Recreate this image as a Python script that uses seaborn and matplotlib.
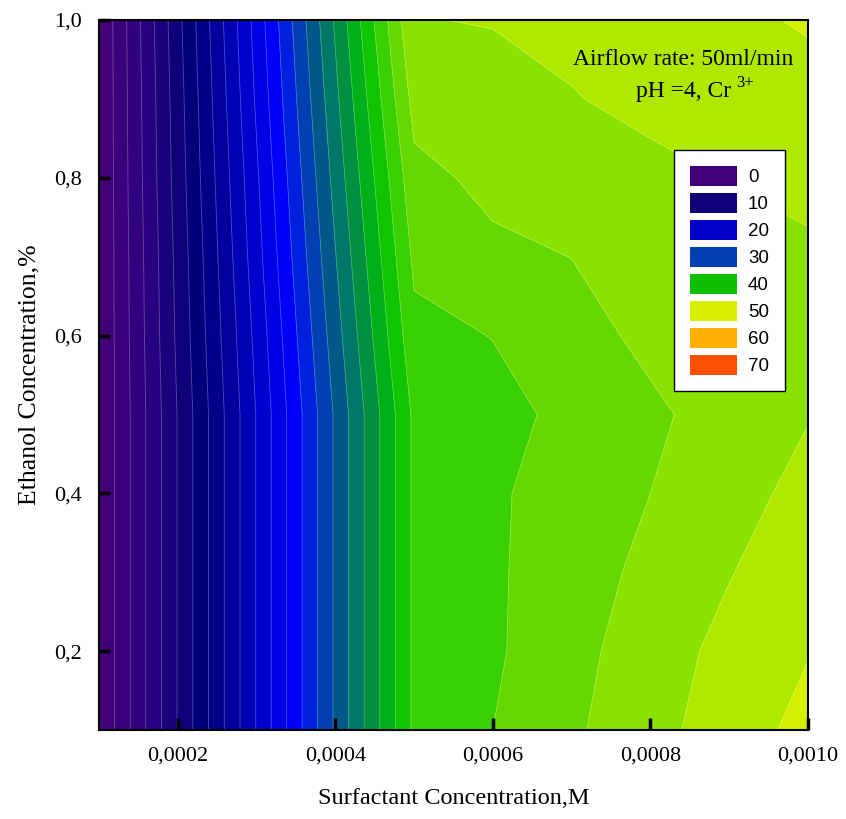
import numpy as np
import seaborn as sns
import matplotlib.pyplot as plt
from matplotlib.patches import Patch
from matplotlib.ticker import FuncFormatter

### grid of the measurements
surfactant = [0.0001, 0.0002, 0.0003, 0.0004, 0.0005, 0.0006, 0.0007, 0.0008, 0.0009, 0.0010]
ethanol = [0.1, 0.2, 0.3, 0.4, 0.5, 0.6, 0.7, 0.8, 0.9, 1.0]

### removal values, one row per ethanol concentration
removal = [
    [0.0, 10.1, 20.1, 30.3, 40.4, 42.0, 43.66, 45.43, 46.86, 48.7],
    [0.0, 10.1, 20.1, 30.3, 40.4, 41.7, 43.4, 45.0, 46.6, 47.9],
    [0.0, 10.1, 20.1, 30.3, 40.4, 41.72, 43.1, 44.5, 45.9, 47.3],
    [0.0, 10.1, 20.1, 30.3, 40.4, 41.72, 42.87, 44.0, 45.25, 46.6],
    [0.0, 10.1, 20.1, 30.3, 40.4, 41.36, 42.5, 43.65, 44.8, 45.9],
    [0.0, 10.4, 20.6, 31.1, 41.45, 42.05, 43.27, 44.45, 45.1, 45.6],
    [0.0, 10.6, 21.2, 31.9, 42.42, 43.6, 44.02, 44.8, 45.3, 45.75],
    [0.0, 10.9, 21.7, 32.7, 43.44, 44.5, 45.0, 45.5, 46.06, 46.4],
    [0.0, 11.1, 22.3, 33.5, 44.7, 45.3, 45.9, 46.5, 47.0, 47.3],
    [0.0, 11.4, 22.8, 34.3, 45.93, 46.09, 46.5, 47.0, 47.6, 48.2],
]

levels = list(range(0, 52, 2))
band_colors = ['#420078', '#3a007c', '#30007e', '#26007e', '#1a007c',
               '#0e0078', '#02007a', '#000088', '#00009c', '#0000b4',
               '#0000cc', '#0000e4', '#0000fa', '#0020e0', '#0040b0',
               '#005888', '#007868', '#009040', '#00b018', '#10c400',
               '#38d000', '#64d800', '#8ae200', '#b0e800', '#d2f000']

legend_values = ['0', '10', '20', '30', '40', '50', '60', '70']
legend_colors = ['#420078', '#10007a', '#0000c8', '#0040b0',
                 '#10c000', '#d8f000', '#ffb000', '#ff5000']

sns.set_theme(style="ticks")
plt.rcParams['font.family'] = ['Liberation Serif', 'DejaVu Serif']
plt.rcParams['text.color'] = 'black'
plt.rcParams['axes.labelcolor'] = 'black'
plt.rcParams['xtick.labelcolor'] = 'black'
plt.rcParams['ytick.labelcolor'] = 'black'

fig = plt.figure(figsize=(8.46, 8.19), dpi=100)
ax = fig.add_axes([99/846, 1 - 730/819, 709/846, 710/819])
ax.set_axisbelow(False)

X, Y = np.meshgrid(surfactant, ethanol)
Z = np.array(removal)
ax.contourf(X, Y, Z, levels=levels, colors=sns.color_palette(band_colors))
ax.contour(X, Y, Z, levels=levels[1:-1], colors='white', linewidths=0.6, alpha=0.3)

ax.set_xlim(0.0001, 0.0010)
ax.set_ylim(0.1, 1.0)
ax.set_xticks([0.0002, 0.0004, 0.0006, 0.0008, 0.0010])
ax.set_yticks([0.2, 0.4, 0.6, 0.8, 1.0])
ax.xaxis.set_major_formatter(FuncFormatter(lambda v, p: f"{v:.4f}".replace('.', ',')))
ax.yaxis.set_major_formatter(FuncFormatter(lambda v, p: f"{v:.1f}".replace('.', ',')))
ax.tick_params(axis='x', direction='in', length=9, width=2.5, color='black', labelsize=16, pad=12)
ax.tick_params(axis='y', direction='in', length=8, width=2.5, color='black', labelsize=16, pad=12)
for s in ax.spines.values():
    s.set_visible(True)
    s.set_color('black')
    s.set_linewidth(1.5)
    s.set_zorder(5)

ax.set_xlabel('Surfactant Concentration,M', fontsize=17.5, labelpad=16)
ax.set_ylabel('Ethanol Concentration,%', fontsize=18.5, labelpad=10)

ax.text(0.8237, 0.9437, 'Airflow rate: 50ml/min', transform=ax.transAxes,
        ha='center', va='center', fontsize=17)
ax.text(0.8914, 0.8986, 'pH =4, Cr', transform=ax.transAxes,
        ha='right', va='center', fontsize=17)
ax.text(0.8984, 0.9115, '3+', transform=ax.transAxes,
        ha='left', va='center', fontsize=12)

handles = [Patch(facecolor=c, edgecolor='none') for c in legend_colors]
leg = ax.legend(handles, legend_values, loc='upper right', bbox_to_anchor=(0.9676, 0.8169),
                borderaxespad=0, fancybox=False, frameon=True, framealpha=1,
                prop={'family': 'Liberation Sans', 'size': 13.5},
                handlelength=2.5, handleheight=1.25, labelspacing=0.36,
                handletextpad=0.6, borderpad=0.85)
leg.get_frame().set_edgecolor('black')
leg.get_frame().set_linewidth(1)

plt.savefig('out.png', dpi=100)
